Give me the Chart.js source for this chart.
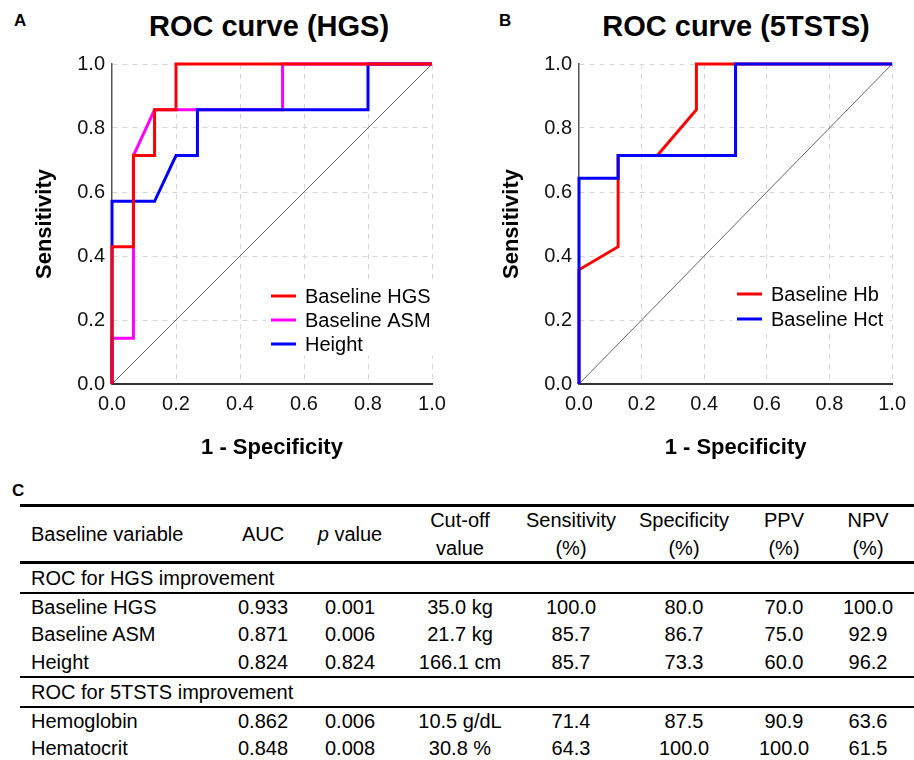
<!DOCTYPE html>
<html><head><meta charset="utf-8">
<script src="https://cdn.jsdelivr.net/npm/chart.js@4.4.1/dist/chart.umd.min.js"></script>
<style>
html,body{margin:0;padding:0;background:#fff;width:914px;height:760px;overflow:hidden;font-family:"Liberation Sans",Arial,sans-serif;color:#000}
.abs{position:absolute}
.letter{position:absolute;font-weight:bold;font-size:17px;line-height:17px}
.title{position:absolute;font-weight:bold;font-size:29px;line-height:29px;white-space:nowrap;transform:translateX(-50%)}
canvas{position:absolute;top:0}
.row{position:absolute;left:20px;width:894px;display:flex;align-items:center;font-size:20px;line-height:28px}
.cell{text-align:center;white-space:nowrap}
.rule{position:absolute;left:20px;width:894px;background:#000}
</style></head><body>
<div class="letter" style="left:14px;top:12px">A</div>
<div class="title" style="left:269px;top:12px">ROC curve (HGS)</div>
<div class="letter" style="left:499px;top:12px">B</div>
<div class="title" style="left:736px;top:12px">ROC curve (5TSTS)</div>
<div class="letter" style="left:12px;top:482px">C</div>
<canvas id="chartA" width="457" height="470" style="left:0px"></canvas>
<canvas id="chartB" width="447" height="470" style="left:467px"></canvas>
<div id="table"></div>
<script>
// ---------- data ----------
const tickValues = [0, 0.2, 0.4, 0.6, 0.8, 1.0];
const tickLabels = ['0.0', '0.2', '0.4', '0.6', '0.8', '1.0'];

const refX = [0, 1];
const refY = [0, 1];

// Panel A: ROC curve (HGS)
const hgsX = [0, 0, 0.067, 0.067, 0.133, 0.133, 0.2, 0.2, 1];
const hgsY = [0, 0.429, 0.429, 0.714, 0.714, 0.857, 0.857, 1, 1];
const asmX = [0, 0, 0.067, 0.067, 0.133, 0.533, 0.533, 1];
const asmY = [0, 0.143, 0.143, 0.714, 0.857, 0.857, 1, 1];
const heightX = [0, 0, 0.133, 0.2, 0.267, 0.267, 0.8, 0.8, 1];
const heightY = [0, 0.571, 0.571, 0.714, 0.714, 0.857, 0.857, 1, 1];

// Panel B: ROC curve (5TSTS)
const hbX = [0, 0, 0.125, 0.125, 0.25, 0.375, 0.375, 1];
const hbY = [0, 0.357, 0.429, 0.714, 0.714, 0.857, 1, 1];
const hctX = [0, 0, 0.125, 0.125, 0.5, 0.5, 1];
const hctY = [0, 0.643, 0.643, 0.714, 0.714, 1, 1];

const seriesNamesA = ['Baseline HGS', 'Baseline ASM', 'Height'];
const seriesNamesB = ['Baseline Hb', 'Baseline Hct'];

// Panel C: table
const tableHeader = ['Baseline variable', 'AUC', '<i>p</i> value', 'Cut-off<br>value', 'Sensitivity<br>(%)', 'Specificity<br>(%)', 'PPV<br>(%)', 'NPV<br>(%)'];
const group1Title = 'ROC for HGS improvement';
const group1Rows = [
  ['Baseline HGS', '0.933', '0.001', '35.0 kg', '100.0', '80.0', '70.0', '100.0'],
  ['Baseline ASM', '0.871', '0.006', '21.7 kg', '85.7', '86.7', '75.0', '92.9'],
  ['Height', '0.824', '0.824', '166.1 cm', '85.7', '73.3', '60.0', '96.2']
];
const group2Title = 'ROC for 5TSTS improvement';
const group2Rows = [
  ['Hemoglobin', '0.862', '0.006', '10.5 g/dL', '71.4', '87.5', '90.9', '63.6'],
  ['Hematocrit', '0.848', '0.008', '30.8 %', '64.3', '100.0', '100.0', '61.5']
];

// ---------- charts ----------
const FAMILY = '"Liberation Sans", Arial, sans-serif';

function line(label, xs, ys, color, order, width) {
  return {
    label: label,
    data: xs.map((x, i) => ({x: x, y: ys[i]})),
    showLine: true, borderColor: color, backgroundColor: color,
    borderWidth: width, pointRadius: 0, pointHoverRadius: 0,
    fill: false, tension: 0, clip: false, order: order
  };
}

const legendPlugin = {
  id: 'cornerLegend',
  afterDatasetsDraw(chart, args, opts) {
    const ctx = chart.ctx, a = chart.chartArea;
    const items = chart.data.datasets.filter(d => d.label);
    ctx.save();
    ctx.font = '20px ' + FAMILY;
    let maxW = 0;
    items.forEach(d => { maxW = Math.max(maxW, ctx.measureText(d.label).width); });
    const x0 = a.left + opts.dx, y0 = a.top + opts.dy;
    ctx.fillStyle = '#fff';
    ctx.fillRect(x0 - 5, y0 - 12, 34 + maxW + 8, (items.length - 1) * opts.gap + 24);
    items.forEach((d, i) => {
      const y = y0 + i * opts.gap;
      ctx.strokeStyle = d.borderColor; ctx.lineWidth = 3;
      ctx.beginPath(); ctx.moveTo(x0, y); ctx.lineTo(x0 + 25, y); ctx.stroke();
      ctx.fillStyle = '#000'; ctx.textBaseline = 'middle'; ctx.textAlign = 'left';
      ctx.fillText(d.label, x0 + 34, y + 1);
    });
    ctx.restore();
  }
};

function axis(isX) {
  return {
    type: 'linear', min: 0, max: 1,
    afterFit(s) { if (isX) s.height = 86; else s.width = 112; },
    afterBuildTicks(s) { s.ticks = tickValues.map(v => ({value: v})); },
    ticks: {callback: (v, i) => tickLabels[i], font: {size: 20, family: FAMILY}, color: '#111', padding: isX ? 8 : 7, maxRotation: 0, autoSkip: false},
    grid: {color: c => (c.tick && c.tick.value === 0) ? 'rgba(0,0,0,0)' : '#d6d6d6', drawTicks: false, lineWidth: 1},
    border: {display: true, color: isX ? '#333' : '#555', width: isX ? 2 : 1.5, dash: [5, 5]},
    title: {display: true, text: isX ? '1 - Specificity' : 'Sensitivity', color: '#000',
      font: {size: 22, weight: 'bold', family: FAMILY},
      padding: isX ? {top: 0, bottom: 9} : {top: 32, bottom: 0}}
  };
}

function makeChart(id, datasets, rightPad, legendOpts) {
  return new Chart(document.getElementById(id), {
    type: 'scatter',
    data: {datasets: datasets},
    options: {
      responsive: false, animation: false, devicePixelRatio: 1,
      layout: {padding: {left: 0, top: 64, right: rightPad, bottom: 0}},
      plugins: {legend: {display: false}, tooltip: {enabled: false}, cornerLegend: legendOpts},
      scales: {x: axis(true), y: axis(false)}
    },
    plugins: [legendPlugin]
  });
}

makeChart('chartA', [
  line(seriesNamesA[0], hgsX, hgsY, '#ff0000', 0, 3),
  line(seriesNamesA[1], asmX, asmY, '#ff00ff', 2, 3),
  line(seriesNamesA[2], heightX, heightY, '#0000ff', 1, 3),
  line('', refX, refY, '#666666', 10, 1)
], 25, {dx: 159, dy: 232, gap: 24});

makeChart('chartB', [
  line(seriesNamesB[0], hbX, hbY, '#ff0000', 1, 3),
  line(seriesNamesB[1], hctX, hctY, '#0000ff', 0, 3),
  line('', refX, refY, '#666666', 10, 1)
], 16, {dx: 158, dy: 230, gap: 25});

// ---------- table ----------
const colWidths = [206, 74, 100, 120, 102, 124, 76, 92];
const tbl = document.getElementById('table');
function rule(top, h) {
  const d = document.createElement('div'); d.className = 'rule';
  d.style.top = top + 'px'; d.style.height = h + 'px'; tbl.appendChild(d);
}
function row(top, h, cells, full) {
  const r = document.createElement('div'); r.className = 'row';
  r.style.top = top + 'px'; r.style.height = h + 'px';
  if (full) {
    const c = document.createElement('div'); c.className = 'cell';
    c.style.textAlign = 'left'; c.style.paddingLeft = '11px'; c.innerHTML = cells;
    r.appendChild(c);
  } else {
    cells.forEach((t, i) => {
      const c = document.createElement('div'); c.className = 'cell';
      c.style.width = colWidths[i] + 'px'; c.style.flex = 'none';
      if (i === 0) { c.style.textAlign = 'left'; c.style.paddingLeft = '11px'; c.style.boxSizing = 'border-box'; }
      c.innerHTML = t; r.appendChild(c);
    });
  }
  tbl.appendChild(r);
}
rule(504, 3);
row(507, 54, tableHeader, false);
rule(561, 3);
row(564, 28, group1Title, true);
rule(592, 2);
let y = 594;
group1Rows.forEach((r, i) => { const h = i === 0 ? 26 : 28; row(y, h, r, false); y += h; });
rule(676, 2);
row(678, 28, group2Title, true);
rule(706, 2);
y = 708;
group2Rows.forEach((r, i) => { const h = i === 0 ? 26 : 28; row(y, h, r, false); y += h; });
</script>
</body></html>
